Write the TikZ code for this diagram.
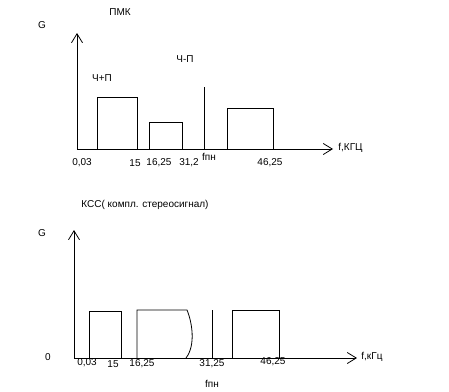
\documentclass[tikz,border=0pt]{standalone}
\usepackage{fontspec}
\setmainfont{Liberation Sans}
\usetikzlibrary{arrows.meta}
\begin{document}
\begin{tikzpicture}[x=1pt,y=-1pt,line width=0.8pt,
  font=\fontsize{10}{12}\selectfont,
  lbl/.style={inner sep=0pt},
  axis/.style={-{Straight Barb[length=9pt,width=11pt]}}]
\useasboundingbox (0,0) rectangle (449,391);
% upper spectrum
\node[lbl] (pmk) at (120,12) {ПМК};
\node[lbl] (g1) at (42,25) {G};
\coordinate (o1) at (77,149);
\coordinate (y1) at (77,33);
\coordinate (x1) at (333,149);
\path[draw,axis] (o1) -- (y1);
\path[draw,axis] (o1) -- (x1);
\node[lbl,anchor=west] (f1) at (338,148) {f,КГЦ};
\draw (97,149) |- (137,97) -- (137,149);
\draw (149,149) |- (182,122) -- (182,149);
\draw (204,149) -- (204,87);
\draw (227,149) |- (273,108) -- (273,149);
\node[lbl] (sum1) at (102,78) {Ч+П};
\node[lbl] (dif1) at (185,59) {Ч-П};
\node[lbl] (t1a) at (82,163) {0,03};
\node[lbl] (t1b) at (135,163) {15};
\node[lbl] (t1c) at (159,163) {16,25};
\node[lbl] (t1d) at (189,163) {31,2};
\node[lbl] (fp1) at (209,157) {fпн};
\node[lbl] (t1e) at (270,163) {46,25};
% lower spectrum
\node[lbl] (kss) at (145,205) {КСС( компл. стереосигнал)};
\node[lbl] (g2) at (42,233) {G};
\node[lbl] (z2) at (48,357) {0};
\coordinate (o2) at (74,358);
\coordinate (y2) at (74,230);
\coordinate (x2) at (357,358);
\path[draw,axis] (o2) -- (y2);
\path[draw,axis] (o2) -- (x2);
\node[lbl,anchor=west] (f2) at (361,357) {f,кГц};
\draw (89,358) |- (121,311) -- (121,358);
\draw (137,358) |- (187,310) .. controls (192,322) and (196,345) .. (186,358);
\draw (212,358) -- (212,310);
\draw (232,358) |- (279,310) -- (279,358);
\node[lbl] (t2a) at (87,363) {0,03};
\node[lbl] (t2b) at (113,364) {15};
\node[lbl] (t2c) at (142,364) {16,25};
\node[lbl] (t2d) at (212,364) {31,25};
\node[lbl] (t2e) at (273,362) {46,25};
\node[lbl] (fp2) at (212,384) {fпн};
\end{tikzpicture}
\end{document}
